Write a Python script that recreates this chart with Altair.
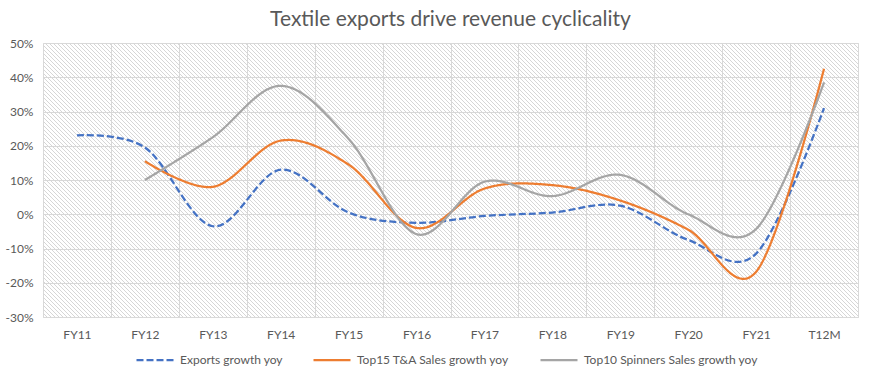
import altair as alt
import pandas as pd

categories = ["FY11", "FY12", "FY13", "FY14", "FY15", "FY16", "FY17", "FY18", "FY19", "FY20", "FY21", "T12M"]
exports_growth = [23, 19.5, -3.5, 13, 0.5, -2.5, -0.5, 0.5, 2.5, -7.5, -11.5, 31]
top15_growth = [None, 15.5, 8, 21.5, 14.5, -4, 7.5, 8.5, 4, -4.5, -16.8, 42.5]
top10_growth = [None, 10, 22.5, 37.5, 22, -5.8, 9.5, 5.3, 11.5, 0, -4.3, 38.5]
series_names = ["Exports growth yoy", "Top15 T&A Sales growth yoy", "Top10 Spinners Sales growth yoy"]
series_colors = ["#4472C4", "#ED7D31", "#A5A5A5"]
y_ticks = [-0.3, -0.2, -0.1, 0.0, 0.1, 0.2, 0.3, 0.4, 0.5]

rows = []
for name, vals in zip(series_names, [exports_growth, top15_growth, top10_growth]):
    for c, v in zip(categories, vals):
        if v is not None:
            rows.append({"cat": c, "series": name, "value": v / 100.0})
df = pd.DataFrame(rows)

W, H = 815, 274
FONT = "Lato"
TXT = "#595959"
GRID = "#d9d9d9"

# diagonal hatch texture of the plot area (decoration only)
SPACING = 4
n_hatch = (W + H) // SPACING + 2
background = alt.Chart(alt.sequence(0, n_hatch, as_="i")).transform_calculate(
    hx=f"datum.i * {SPACING} - {H}",
).transform_calculate(
    hx2=f"datum.hx + {H}",
    hy=alt.expr.toNumber(0),
    hy2=alt.expr.toNumber(H),
).mark_rule(color="#d6d6d6", strokeWidth=1, clip=True).encode(
    x=alt.X("hx:Q", scale=None, axis=None),
    x2="hx2:Q",
    y=alt.Y("hy:Q", scale=None, axis=None),
    y2="hy2:Q",
)

legend = alt.Legend(
    title=None, orient="none", direction="horizontal", legendX=92, legendY=297,
    symbolType="stroke", symbolSize=1369, symbolStrokeWidth=2.25,
    labelFont=FONT, labelFontSize=12, labelColor=TXT, labelLimit=300,
    columnPadding=26, labelOffset=5, padding=0,
)

lines = alt.Chart(df).mark_line(interpolate="cardinal", strokeWidth=2.25).encode(
    x=alt.X(
        "cat:N", sort=categories, bandPosition=0.5,
        scale=alt.Scale(type="band", domain=categories, paddingInner=0, paddingOuter=0),
        axis=alt.Axis(title=None, tickBand="extent", grid=True, gridColor=GRID, ticks=False,
                      domain=False, labelAngle=0, labelPadding=12, labelColor=TXT,
                      labelFont=FONT, labelFontSize=12),
    ),
    y=alt.Y(
        "value:Q", scale=alt.Scale(domain=[-0.3, 0.5], nice=False, zero=False),
        axis=alt.Axis(title=None, values=y_ticks, ticks=False, domain=False, gridColor=GRID,
                      labelPadding=10, labelColor=TXT, labelFont=FONT, labelFontSize=12,
                      labelExpr="(datum.value < -0.001 ? '-' : '') + format(abs(datum.value), '.0%')"),
    ),
    color=alt.Color("series:N", scale=alt.Scale(domain=series_names, range=series_colors), legend=legend),
    strokeDash=alt.StrokeDash("series:N", scale=alt.Scale(domain=series_names, range=[[7, 3], [1, 0], [1, 0]]), legend=legend),
)

chart = alt.layer(background, lines).resolve_scale(x="independent", y="independent").properties(
    width=W, height=H,
    title=alt.TitleParams("Textile exports drive revenue cyclicality", font=FONT, fontSize=21,
                          fontWeight="normal", color=TXT, anchor="middle", offset=7),
    autosize=alt.AutoSizeParams(type="none"),
    padding={"left": 43, "top": 43, "right": 20, "bottom": 58},
).configure_view(stroke=GRID, strokeWidth=1).configure(background="white")

chart.save("out.html", embed_options={"renderer": "svg", "actions": False})
